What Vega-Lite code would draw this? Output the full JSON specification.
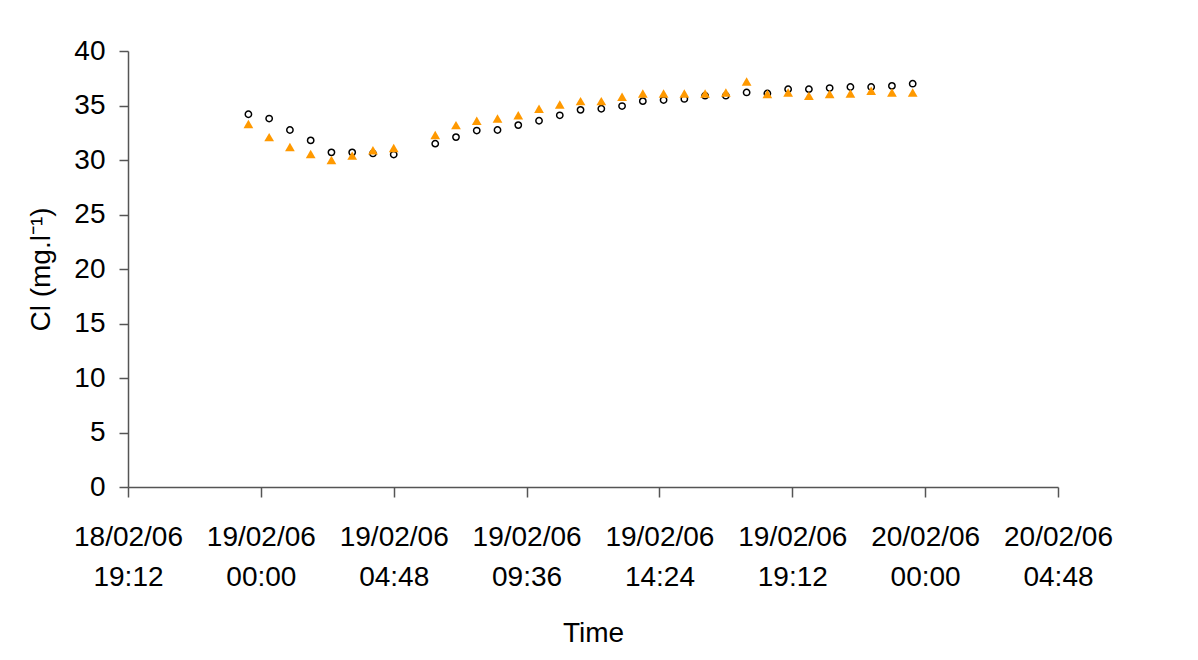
{
  "$schema": "https://vega.github.io/schema/vega-lite/v6.json",
  "autosize": {"type": "none"},
  "padding": {"left": 128, "top": 51, "right": 140, "bottom": 173},
  "width": 930,
  "height": 436,
  "background": "white",
  "config": {
    "view": {"stroke": null},
    "font": "Liberation Sans",
    "axis": {
      "grid": false,
      "domainColor": "#555555",
      "domainWidth": 1.5,
      "tickColor": "#555555",
      "tickWidth": 1.5,
      "labelColor": "#000000",
      "titleColor": "#000000",
      "labelFont": "Liberation Sans",
      "titleFont": "Liberation Sans",
      "labelFontSize": 28,
      "titleFontSize": 28,
      "titleFontWeight": "normal"
    }
  },
  "datasets": {
    "circles": [
      {"time": "2006-02-18T23:33", "cl": 34.2},
      {"time": "2006-02-19T00:18", "cl": 33.8},
      {"time": "2006-02-19T01:03", "cl": 32.75},
      {"time": "2006-02-19T01:48", "cl": 31.8},
      {"time": "2006-02-19T02:33", "cl": 30.7},
      {"time": "2006-02-19T03:18", "cl": 30.7},
      {"time": "2006-02-19T04:03", "cl": 30.6},
      {"time": "2006-02-19T04:48", "cl": 30.5},
      {"time": "2006-02-19T06:18", "cl": 31.5},
      {"time": "2006-02-19T07:03", "cl": 32.1},
      {"time": "2006-02-19T07:48", "cl": 32.7},
      {"time": "2006-02-19T08:33", "cl": 32.75},
      {"time": "2006-02-19T09:18", "cl": 33.2},
      {"time": "2006-02-19T10:03", "cl": 33.6},
      {"time": "2006-02-19T10:48", "cl": 34.1},
      {"time": "2006-02-19T11:33", "cl": 34.6},
      {"time": "2006-02-19T12:18", "cl": 34.7},
      {"time": "2006-02-19T13:03", "cl": 34.95},
      {"time": "2006-02-19T13:48", "cl": 35.4},
      {"time": "2006-02-19T14:33", "cl": 35.5},
      {"time": "2006-02-19T15:18", "cl": 35.6},
      {"time": "2006-02-19T16:03", "cl": 35.9},
      {"time": "2006-02-19T16:48", "cl": 35.9},
      {"time": "2006-02-19T17:33", "cl": 36.2},
      {"time": "2006-02-19T18:18", "cl": 36.1},
      {"time": "2006-02-19T19:03", "cl": 36.5},
      {"time": "2006-02-19T19:48", "cl": 36.5},
      {"time": "2006-02-19T20:33", "cl": 36.6},
      {"time": "2006-02-19T21:18", "cl": 36.7},
      {"time": "2006-02-19T22:03", "cl": 36.7},
      {"time": "2006-02-19T22:48", "cl": 36.8},
      {"time": "2006-02-19T23:33", "cl": 37.0}
    ],
    "triangles": [
      {"time": "2006-02-18T23:33", "cl": 33.3},
      {"time": "2006-02-19T00:18", "cl": 32.1},
      {"time": "2006-02-19T01:03", "cl": 31.2},
      {"time": "2006-02-19T01:48", "cl": 30.55},
      {"time": "2006-02-19T02:33", "cl": 30.0},
      {"time": "2006-02-19T03:18", "cl": 30.4},
      {"time": "2006-02-19T04:03", "cl": 30.9},
      {"time": "2006-02-19T04:48", "cl": 31.1},
      {"time": "2006-02-19T06:18", "cl": 32.3},
      {"time": "2006-02-19T07:03", "cl": 33.2},
      {"time": "2006-02-19T07:48", "cl": 33.6},
      {"time": "2006-02-19T08:33", "cl": 33.8},
      {"time": "2006-02-19T09:18", "cl": 34.1},
      {"time": "2006-02-19T10:03", "cl": 34.7},
      {"time": "2006-02-19T10:48", "cl": 35.1},
      {"time": "2006-02-19T11:33", "cl": 35.4},
      {"time": "2006-02-19T12:18", "cl": 35.4},
      {"time": "2006-02-19T13:03", "cl": 35.8},
      {"time": "2006-02-19T13:48", "cl": 36.1},
      {"time": "2006-02-19T14:33", "cl": 36.1},
      {"time": "2006-02-19T15:18", "cl": 36.1},
      {"time": "2006-02-19T16:03", "cl": 36.1},
      {"time": "2006-02-19T16:48", "cl": 36.2},
      {"time": "2006-02-19T17:33", "cl": 37.2},
      {"time": "2006-02-19T18:18", "cl": 36.05},
      {"time": "2006-02-19T19:03", "cl": 36.2},
      {"time": "2006-02-19T19:48", "cl": 35.9},
      {"time": "2006-02-19T20:33", "cl": 36.05},
      {"time": "2006-02-19T21:18", "cl": 36.1},
      {"time": "2006-02-19T22:03", "cl": 36.35},
      {"time": "2006-02-19T22:48", "cl": 36.2},
      {"time": "2006-02-19T23:33", "cl": 36.2}
    ]
  },
  "encoding": {
    "x": {
      "field": "time",
      "type": "temporal",
      "title": "Time",
      "scale": {
        "domain": [
          {"year": 2006, "month": 2, "date": 18, "hours": 19, "minutes": 12},
          {"year": 2006, "month": 2, "date": 20, "hours": 4, "minutes": 48}
        ]
      },
      "axis": {
        "values": [
          {"year": 2006, "month": 2, "date": 18, "hours": 19, "minutes": 12},
          {"year": 2006, "month": 2, "date": 19, "hours": 0, "minutes": 0},
          {"year": 2006, "month": 2, "date": 19, "hours": 4, "minutes": 48},
          {"year": 2006, "month": 2, "date": 19, "hours": 9, "minutes": 36},
          {"year": 2006, "month": 2, "date": 19, "hours": 14, "minutes": 24},
          {"year": 2006, "month": 2, "date": 19, "hours": 19, "minutes": 12},
          {"year": 2006, "month": 2, "date": 20, "hours": 0, "minutes": 0},
          {"year": 2006, "month": 2, "date": 20, "hours": 4, "minutes": 48}
        ],
        "labelExpr": "[timeFormat(datum.value, '%d/%m/%y'), timeFormat(datum.value, '%H:%M')]",
        "labelLineHeight": 40,
        "labelPadding": 26,
        "tickSize": 10,
        "labelOverlap": false,
        "labelFlush": false,
        "titlePadding": 28
      }
    },
    "y": {
      "field": "cl",
      "type": "quantitative",
      "title": "Cl (mg.l⁻¹)",
      "scale": {"domain": [0, 40], "nice": false, "zero": true},
      "axis": {
        "values": [0, 5, 10, 15, 20, 25, 30, 35, 40],
        "tickSize": 9,
        "labelPadding": 14,
        "titlePadding": 18
      }
    }
  },
  "layer": [
    {
      "data": {"name": "circles"},
      "mark": {"type": "point", "shape": "circle", "filled": false, "stroke": "#000000", "fill": "#FFFFFF", "fillOpacity": 1, "strokeWidth": 1.5, "size": 40, "opacity": 1}
    },
    {
      "data": {"name": "triangles"},
      "mark": {"type": "point", "shape": "triangle-up", "filled": true, "color": "#FF9900", "size": 95, "opacity": 1}
    }
  ]
}
